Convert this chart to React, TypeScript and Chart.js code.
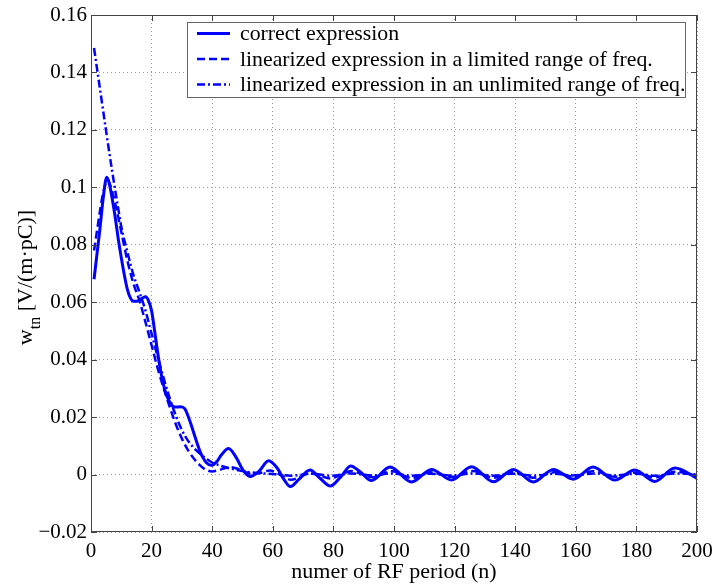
import React, { useEffect, useRef } from "react";
import { Chart, registerables } from "chart.js";

Chart.register(...registerables);

const FONT = "'Liberation Serif', 'Times New Roman', serif";
const BLUE = "#0000ff";

// Axis ranges and tick spacing
const xRange = [0, 200];
const xStep = 20;
const yRange = [-0.02, 0.16];
const yStep = 0.02;

// Series: correct expression (n, w_tn)
const correctN = [
  1, 2, 3, 4, 5.2, 6, 7, 8, 9, 10, 11, 12, 13, 14, 15, 16, 17, 18, 19, 20,
  21, 22, 23, 24, 25, 26, 27, 28, 29.5, 31, 32, 33, 34, 35, 36, 37, 38, 39.7,
  41.5, 43, 45.4, 48, 50, 52.5, 55.5, 58.6, 61.5, 63.5, 65.8, 68.5, 72.3,
  75.5, 79, 82.5, 85.7, 89, 92.6, 98.7, 105.8, 112.4, 119, 125.6, 132.8,
  139.4, 146, 152.6, 159.2, 165.7, 172.9, 179.5, 186, 192.7, 200,
];
const correctW = [
  0.068, 0.077, 0.086, 0.096, 0.1035, 0.1015, 0.096, 0.0895, 0.082, 0.0755,
  0.0695, 0.0645, 0.0615, 0.0603, 0.0603, 0.0608, 0.0615, 0.0619, 0.0605,
  0.057, 0.05, 0.0425, 0.036, 0.031, 0.0275, 0.0252, 0.0238, 0.0235, 0.0236,
  0.0229, 0.0205, 0.0175, 0.0142, 0.011, 0.008, 0.0058, 0.0042, 0.0032,
  0.0045, 0.0068, 0.0091, 0.0058, 0.0018, -0.0007, 0.0012, 0.0048, 0.0022,
  -0.0014, -0.0042, -0.0018, 0.0016, -0.0012, -0.004, -0.0007, 0.003,
  0.0008, -0.0021, 0.0026, -0.0026, 0.0018, -0.0019, 0.0027, -0.0025,
  0.0018, -0.0026, 0.0018, -0.0016, 0.0026, -0.0019, 0.0016, -0.0024,
  0.0023, -0.0013,
];

// Series: linearized expression, limited range of frequencies
const limitedN = [
  1, 2, 3, 4, 5.5, 7, 8.5, 10, 12, 14, 16, 18, 20, 22, 24, 26, 28, 30, 32,
  34, 36, 38, 40, 43, 46, 49, 53, 56, 59, 62, 66, 69, 72, 75, 79, 82, 86,
  89, 93, 99, 106, 112, 119, 126, 133, 139, 146, 153, 159, 166, 173, 180,
  186, 193, 200,
];
const limitedW = [
  0.078, 0.085, 0.092, 0.098, 0.1025, 0.0985, 0.092, 0.0845, 0.0745, 0.0665,
  0.0605, 0.053, 0.045, 0.037, 0.03, 0.0235, 0.0175, 0.0125, 0.0085, 0.0055,
  0.0032, 0.0016, 0.0011, 0.0018, 0.0026, 0.0018, 0.0002, 0.0006, 0.0014,
  0.0002, -0.0018, -0.0008, 0.0004, -0.0002, -0.0014, -0.0003, 0.0012,
  0.0003, -0.0009, 0.0012, -0.0012, 0.0008, -0.0008, 0.0012, -0.0011,
  0.0008, -0.0011, 0.0008, -0.0007, 0.0012, -0.0008, 0.0007, -0.001, 0.001,
  -0.0005,
];

// Series: linearized expression, unlimited range of frequencies
const unlimitedN = [
  1, 3, 5, 7, 9, 10, 12, 14, 16, 18, 20, 22, 24, 26, 28, 30, 32, 34, 36, 38,
  40, 43, 46, 50, 55, 60, 66, 73, 79, 86, 93, 99, 106, 112, 119, 126, 133,
  139, 146, 153, 159, 166, 173, 180, 186, 193, 200,
];
const unlimitedW = [
  0.1485, 0.134, 0.1195, 0.1055, 0.0925, 0.0863, 0.0775, 0.0695, 0.0635,
  0.057, 0.049, 0.041, 0.0335, 0.0265, 0.0205, 0.0155, 0.0118, 0.0092,
  0.0072, 0.0056, 0.0042, 0.003, 0.0021, 0.0012, 0.0005, 0.0002, -0.0004,
  0.0003, -0.0004, 0.0004, -0.0003, 0.0004, -0.0004, 0.0003, -0.0003,
  0.0004, -0.0004, 0.0003, -0.0004, 0.0003, -0.0003, 0.0004, -0.0003,
  0.0003, -0.0004, 0.0004, 0,
];

const legendLabels = [
  "correct expression",
  "linearized expression in a limited range of freq.",
  "linearized expression in an unlimited range of freq.",
];
const xTitle = "numer of RF period (n)";
const yTitleMain = "w";
const yTitleSub = "tn";
const yTitleUnit = " [V/(m·pC)]";

const dashes: number[][] = [[], [8, 4], [8, 3, 2, 3]];
const widths = [3, 2.5, 2.5];

const toPoints = (ns: number[], ws: number[]) =>
  ns.map((n, i) => ({ x: n, y: ws[i] }));

const fmtTick = (v: number) => {
  const r = Math.round(v * 100) / 100;
  if (r === 0) return "0";
  const s = String(Math.abs(r));
  return r < 0 ? "\u2212" + s : s;
};

const decorPlugin = {
  id: "decor",
  afterDraw(chart: any) {
    const { ctx, chartArea: a, scales } = chart;
    const xs = scales.x;
    const ys = scales.y;
    ctx.save();

    // Frame with inward ticks on all four sides
    ctx.strokeStyle = "#444";
    ctx.lineWidth = 1;
    ctx.setLineDash([]);
    ctx.strokeRect(a.left + 0.5, a.top + 0.5, a.right - a.left - 1, a.bottom - a.top - 1);
    const tl = 6;
    ctx.beginPath();
    xs.ticks.forEach((t: any) => {
      const px = Math.round(xs.getPixelForValue(t.value)) + 0.5;
      ctx.moveTo(px, a.bottom);
      ctx.lineTo(px, a.bottom - tl);
      ctx.moveTo(px, a.top);
      ctx.lineTo(px, a.top + tl);
    });
    ys.ticks.forEach((t: any) => {
      const py = Math.round(ys.getPixelForValue(t.value)) + 0.5;
      ctx.moveTo(a.left, py);
      ctx.lineTo(a.left + tl, py);
      ctx.moveTo(a.right, py);
      ctx.lineTo(a.right - tl, py);
    });
    ctx.stroke();

    // Legend box
    const bx = 187, by = 22, bw = 498, bh = 75;
    ctx.fillStyle = "#fff";
    ctx.fillRect(bx, by, bw, bh);
    ctx.strokeStyle = "#666";
    ctx.strokeRect(bx + 0.5, by + 0.5, bw, bh);
    ctx.font = `21.8px ${FONT}`;
    ctx.textBaseline = "middle";
    ctx.textAlign = "left";
    legendLabels.forEach((lab, i) => {
      const ly = 33.5 + i * 25.5;
      ctx.strokeStyle = BLUE;
      ctx.lineWidth = widths[i];
      ctx.setLineDash(dashes[i]);
      ctx.beginPath();
      ctx.moveTo(197, ly);
      ctx.lineTo(230, ly);
      ctx.stroke();
      ctx.fillStyle = "#000";
      ctx.fillText(lab, 240, ly + 1);
    });
    ctx.setLineDash([]);

    // X axis title
    ctx.fillStyle = "#000";
    ctx.textAlign = "center";
    ctx.textBaseline = "middle";
    ctx.font = `22px ${FONT}`;
    ctx.fillText(xTitle, (a.left + a.right) / 2, 572);

    // Y axis title with subscript
    const mainFont = `22px ${FONT}`;
    const subFont = `16px ${FONT}`;
    ctx.font = mainFont;
    const wW = ctx.measureText(yTitleMain).width;
    const uW = ctx.measureText(yTitleUnit).width;
    ctx.font = subFont;
    const sW = ctx.measureText(yTitleSub).width;
    const total = wW + sW + uW;
    const cy = (a.top + a.bottom) / 2 + 4;
    ctx.translate(32, cy + total / 2);
    ctx.rotate(-Math.PI / 2);
    ctx.textAlign = "left";
    ctx.textBaseline = "alphabetic";
    ctx.font = mainFont;
    ctx.fillText(yTitleMain, 0, 0);
    ctx.font = subFont;
    ctx.fillText(yTitleSub, wW, 8);
    ctx.font = mainFont;
    ctx.fillText(yTitleUnit, wW + sW, 0);
    ctx.restore();
  },
};

export default function App() {
  const ref = useRef<HTMLCanvasElement | null>(null);

  useEffect(() => {
    if (!ref.current) return;
    Chart.defaults.font.family = FONT;
    const series = [
      toPoints(correctN, correctW),
      toPoints(limitedN, limitedW),
      toPoints(unlimitedN, unlimitedW),
    ];
    const chart = new Chart(ref.current, {
      type: "line",
      data: {
        datasets: series.map((pts, i) => ({
          label: legendLabels[i],
          data: pts,
          borderColor: BLUE,
          backgroundColor: BLUE,
          borderWidth: widths[i],
          borderDash: dashes[i],
          pointRadius: 0,
          cubicInterpolationMode: "monotone" as const,
          fill: false,
        })),
      },
      options: {
        animation: false,
        responsive: false,
        devicePixelRatio: 1,
        layout: { padding: { left: 0, top: 15, right: 17, bottom: 0 } },
        plugins: {
          legend: { display: false },
          tooltip: { enabled: false },
          title: { display: false },
        },
        scales: {
          x: {
            type: "linear",
            min: xRange[0],
            max: xRange[1],
            ticks: {
              stepSize: xStep,
              color: "#000",
              font: { size: 21, family: FONT },
              padding: 7,
              maxRotation: 0,
              autoSkip: false,
              callback: (v: any) => String(v),
            },
            grid: { color: "#9a9a9a", drawTicks: false, lineWidth: 1 },
            border: { display: false, dash: [1, 3] },
            afterFit: (s: any) => {
              s.height = 56;
              s.paddingLeft = 0;
              s.paddingRight = 0;
            },
          },
          y: {
            type: "linear",
            min: yRange[0],
            max: yRange[1],
            ticks: {
              stepSize: yStep,
              color: "#000",
              font: { size: 21, family: FONT },
              padding: 4,
              autoSkip: false,
              callback: (v: any) => fmtTick(Number(v)),
            },
            grid: { color: "#9a9a9a", drawTicks: false, lineWidth: 1 },
            border: { display: false, dash: [1, 3] },
            afterFit: (s: any) => {
              s.width = 91;
              s.paddingTop = 0;
              s.paddingBottom = 0;
            },
          },
        },
      },
      plugins: [decorPlugin],
    });
    return () => chart.destroy();
  }, []);

  return (
    <div style={{ position: "fixed", left: 0, top: 0, width: 714, height: 588, background: "#fff" }}>
      <canvas ref={ref} width={714} height={588} style={{ width: 714, height: 588, display: "block" }} />
    </div>
  );
}
